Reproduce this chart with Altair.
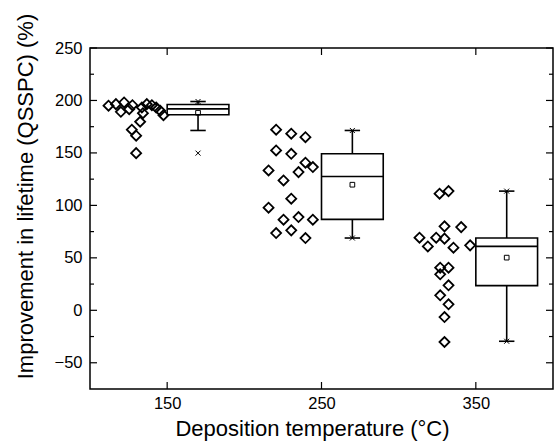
import altair as alt
import pandas as pd

# ---- data ----
pts_x_150 = [112.0, 116.8, 122.1, 127.5, 120.0, 125.4, 133.6, 136.8, 140.1, 142.9, 145.5, 147.6, 134.3, 132.5, 127.1, 129.9, 129.9]
pts_y_150 = [195.0, 196.5, 198.1, 195.5, 189.2, 191.7, 193.3, 196.5, 195.5, 193.3, 190.2, 186.0, 187.9, 179.7, 172.1, 166.4, 149.8]

pts_x_250 = [220.6, 230.4, 239.6, 220.6, 230.4, 239.6, 244.4, 215.7, 235.1, 225.4, 230.4, 215.7, 235.1, 225.4, 244.4, 220.6, 230.4, 239.6]
pts_y_250 = [172.1, 168.3, 165.0, 152.4, 149.2, 140.7, 136.5, 133.3, 131.7, 123.8, 106.4, 97.8, 88.9, 86.4, 86.4, 73.6, 76.2, 68.9]

pts_x_350 = [326.5, 332.3, 329.7, 340.5, 313.5, 324.3, 329.7, 318.9, 335.5, 346.3, 326.9, 332.3, 326.9, 332.3, 326.9, 332.3, 329.7, 329.7]
pts_y_350 = [111.1, 113.6, 80.0, 79.3, 69.2, 69.2, 68.3, 60.9, 59.7, 61.9, 40.6, 40.6, 34.3, 23.8, 14.3, 5.7, -6.4, -30.2]

box_pos = [170, 270, 370]
box_q1 = [186.4, 86.7, 23.5]
box_median = [192.0, 127.6, 60.9]
box_q3 = [196.2, 149.2, 68.9]
box_mean = [188.3, 119.7, 50.2]
whisker_low = [171.4, 68.9, -29.5]
whisker_high = [199.0, 171.4, 113.6]
min_mark = [149.8, 68.9, -29.5]
max_mark = [199.0, 171.4, 113.6]

x_ticks = [150, 250, 350]
y_ticks = [-50, 0, 50, 100, 150, 200, 250]
y_minor = [-25, 25, 75, 125, 175, 225]

# ---- tables ----
pts = pd.DataFrame({
    "x": pts_x_150 + pts_x_250 + pts_x_350,
    "y": pts_y_150 + pts_y_250 + pts_y_350,
})
box = pd.DataFrame({
    "pos": box_pos, "q1": box_q1, "med": box_median, "q3": box_q3,
    "mean": box_mean, "wlo": whisker_low, "whi": whisker_high,
    "mn": min_mark, "mx": max_mark,
})
xt = pd.DataFrame({"v": x_ticks})
yt = pd.DataFrame({"v": y_ticks})
ym = pd.DataFrame({"v": y_minor})

W, H = 463, 341
FONT = "Liberation Sans"

xs = alt.Scale(domain=[100, 400], nice=False, zero=False)
ys = alt.Scale(domain=[-75, 250], nice=False, zero=False)

xa = alt.Axis(values=x_ticks, title="Deposition temperature (°C)", grid=False, domain=False,
              ticks=False, tickSize=0, labelPadding=6, labelFontSize=16.5, labelFont=FONT,
              labelColor="black", labelFlush=False, labelOverlap=False,
              titleFont=FONT, titleFontSize=22, titleFontWeight="normal", titleColor="black",
              titleX=222, titleY=46, titleBaseline="alphabetic", titleAlign="center")
ya = alt.Axis(values=y_ticks, title="Improvement in lifetime (QSSPC) (%)", grid=False, domain=False,
              ticks=False, tickSize=0, labelPadding=8, labelFontSize=16.5, labelFont=FONT,
              labelColor="black", labelFlush=False, labelOverlap=False,
              titleFont=FONT, titleFontSize=22, titleFontWeight="normal", titleColor="black",
              titleX=-58, titleY=148, titleAngle=270, titleBaseline="alphabetic", titleAlign="center")


def X(f):
    return alt.X(f, type="quantitative", scale=xs, axis=xa)


def Y(f):
    return alt.Y(f, type="quantitative", scale=ys, axis=ya)


base_box = alt.Chart(box).transform_calculate(
    lo="datum.pos - 20", hi="datum.pos + 20", clo="datum.pos - 5", chi="datum.pos + 5"
)

rect = base_box.mark_rect(fillOpacity=0, stroke="black", strokeWidth=1.6).encode(
    x=X("lo"), x2="hi", y=Y("q1"), y2="q3")
median = base_box.mark_rule(color="black", strokeWidth=1.6).encode(
    x=X("lo"), x2="hi", y=Y("med"))
w_up = base_box.mark_rule(color="black", strokeWidth=1.6).encode(
    x=X("pos"), y=Y("q3"), y2="whi")
w_dn = base_box.mark_rule(color="black", strokeWidth=1.6).encode(
    x=X("pos"), y=Y("wlo"), y2="q1")
cap_up = base_box.mark_rule(color="black", strokeWidth=1.6).encode(
    x=X("clo"), x2="chi", y=Y("whi"))
cap_dn = base_box.mark_rule(color="black", strokeWidth=1.6).encode(
    x=X("clo"), x2="chi", y=Y("wlo"))
mean_pt = base_box.mark_point(shape="square", size=22, filled=False, color="black",
                              strokeWidth=1, opacity=1).encode(x=X("pos"), y=Y("mean"))
XSHAPE = "M-1,-1L1,1M1,-1L-1,1"
mx_pt = base_box.mark_point(shape=XSHAPE, size=25, filled=False, color="black",
                            strokeWidth=1, opacity=1).encode(x=X("pos"), y=Y("mx"))
mn_pt = base_box.mark_point(shape=XSHAPE, size=25, filled=False, color="black",
                            strokeWidth=1, opacity=1).encode(x=X("pos"), y=Y("mn"))

diam = alt.Chart(pts).mark_point(shape="diamond", size=100, filled=False, color="black",
                                 strokeWidth=1.8, opacity=1).encode(x=X("x"), y=Y("y"))

# inward ticks
tk = dict(color="black", strokeWidth=1.2)
t_left = alt.Chart(yt).mark_rule(**tk).encode(y=Y("v"), x=alt.value(0), x2=alt.value(7))
t_left_m = alt.Chart(ym).mark_rule(**tk).encode(y=Y("v"), x=alt.value(0), x2=alt.value(4))
t_right = alt.Chart(yt).mark_rule(**tk).encode(y=Y("v"), x=alt.value(W), x2=alt.value(W - 7))
t_right_m = alt.Chart(ym).mark_rule(**tk).encode(y=Y("v"), x=alt.value(W), x2=alt.value(W - 4))
t_bot = alt.Chart(xt).mark_rule(**tk).encode(x=X("v"), y=alt.value(H), y2=alt.value(H - 7))
t_top = alt.Chart(xt).mark_rule(**tk).encode(x=X("v"), y=alt.value(0), y2=alt.value(7))

chart = alt.layer(
    diam, rect, median, w_up, w_dn, cap_up, cap_dn, mean_pt, mx_pt, mn_pt,
    t_left, t_left_m, t_right, t_right_m, t_bot, t_top
).properties(
    width=W, height=H,
    padding={"left": 90, "top": 48, "right": 3, "bottom": 53},
    autosize=alt.AutoSizeParams(type="none"),
    background="white",
).configure_view(stroke="black", strokeWidth=1.5)

chart.save("out.html", embed_options={"renderer": "svg", "actions": False})
